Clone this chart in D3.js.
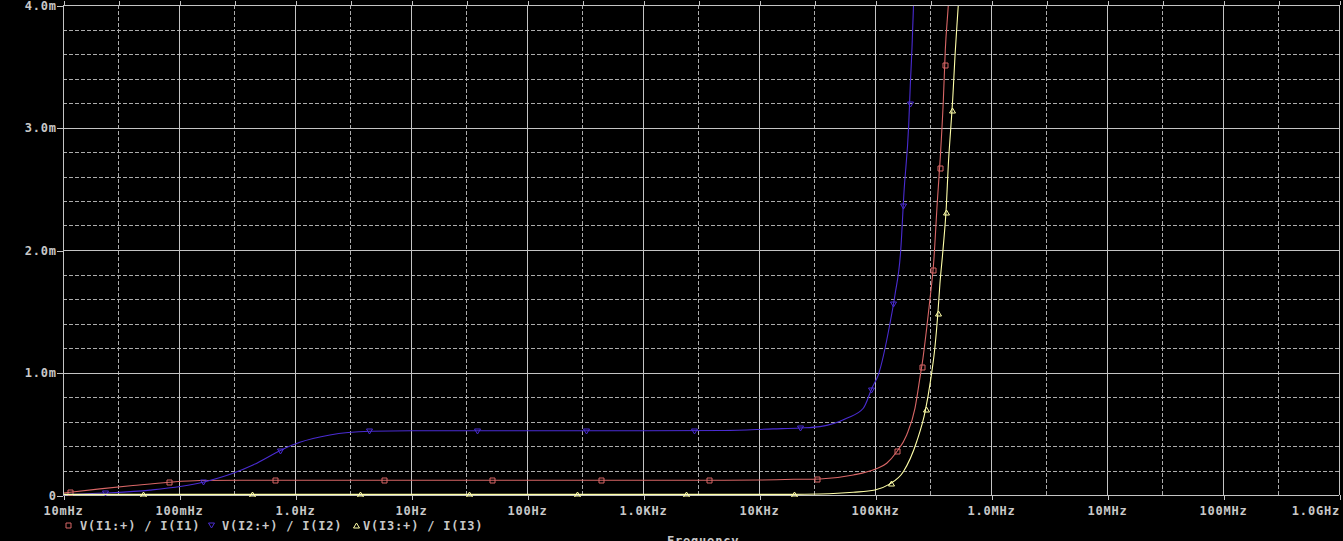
<!DOCTYPE html>
<html><head><meta charset="utf-8">
<script src="https://cdn.jsdelivr.net/npm/d3@7"></script>
<style>
html,body{margin:0;padding:0;background:#000;}
svg{display:block;background:#000;}
text{font-family:"DejaVu Sans Mono","Liberation Mono",monospace;font-weight:bold;}
</style></head><body>
<svg id="chart" width="1343" height="541"></svg>
<script>
// ---- data (values in milli-units, frequencies in Hz) ----
const xTickValues = [0.01, 0.1, 1, 10, 100, 1e3, 1e4, 1e5, 1e6, 1e7, 1e8, 1e9];
const xTickLabels = ["10mHz","100mHz","1.0Hz","10Hz","100Hz","1.0KHz","10KHz","100KHz","1.0MHz","10MHz","100MHz","1.0GHz"];
const xMinorValues = [0.03, 0.3, 3, 30, 300, 3e3, 3e4, 3e5, 3e6, 3e7, 3e8];
const yTickValues = [0, 1, 2, 3, 4];
const yTickLabels = ["0","1.0m","2.0m","3.0m","4.0m"];
const yMinorValues = [0.2,0.4,0.6,0.8,1.2,1.4,1.6,1.8,2.2,2.4,2.6,2.8,3.2,3.4,3.6,3.8];
const seriesNames = ["V(I1:+) / I(I1)", "V(I2:+) / I(I2)", "V(I3:+) / I(I3)"];
const xTitle = "Frequency";

const i1Freq = [0.01, 0.0115, 0.0208, 0.0401, 0.082, 0.152, 0.336, 1, 10, 100, 1000, 5000, 10000, 20000, 33570, 65000, 100000, 126200, 152800, 187500, 221300, 244300, 259400, 278000, 297900, 320600, 344300, 365600, 388200, 403600, 428500, 452000];
const i1Val  = [0.015, 0.022, 0.05, 0.077, 0.104, 0.118, 0.12, 0.12, 0.12, 0.12, 0.12, 0.12, 0.122, 0.128, 0.131, 0.163, 0.21, 0.259, 0.349, 0.49, 0.71, 0.96, 1.12, 1.35, 1.6, 1.9, 2.39, 2.76, 3.22, 3.63, 4.0, 4.4];

const i2Freq = [0.01, 0.023, 0.0562, 0.161, 0.292, 0.434, 0.773, 1.10, 2.0, 4.44, 10, 100, 1000, 5000, 13210, 22540, 33570, 57020, 79250, 94840, 106700, 134600, 148600, 166700, 177800, 195200, 201400, 208400, 214800, 222000];
const i2Val  = [0.003, 0.016, 0.04, 0.104, 0.177, 0.245, 0.37, 0.43, 0.49, 0.52, 0.525, 0.525, 0.525, 0.527, 0.54, 0.547, 0.558, 0.626, 0.708, 0.879, 0.98, 1.40, 1.633, 2.0, 2.471, 3.02, 3.34, 3.65, 4.0, 4.4];

const i3Freq = [0.01, 1, 100, 10000, 18500, 33570, 65000, 100000, 132100, 175400, 228600, 271600, 300600, 328900, 349100, 363100, 385500, 412100, 428500, 451900, 467700, 489800, 522400, 550000];
const i3Val  = [0.005, 0.005, 0.005, 0.005, 0.005, 0.008, 0.022, 0.041, 0.087, 0.19, 0.435, 0.688, 0.93, 1.21, 1.496, 1.728, 2.0, 2.359, 2.694, 3.02, 3.23, 3.592, 4.0, 4.35];

const seriesColors = ["#d86666", "#4a2cd2", "#ffffa8"];
const markerKinds = ["square", "down", "up"];

// ---- layout ----
const L = 63, R = 1339, T = 5, B = 495;
const svg = d3.select("#chart");
const x = d3.scaleLog().domain([0.01, 1e9]).range([L, R]);
const y = d3.scaleLinear().domain([0, 4]).range([B, T]);
const px = v => Math.round(v) + 0.5;

const solidCol = "#c4c4c4", dashCol = "#acacac", textCol = "#c8c8c8";

// grid
const grid = svg.append("g").attr("shape-rendering", "crispEdges");
grid.selectAll("line.vmin").data(xMinorValues).join("line")
  .attr("x1", d => px(x(d))).attr("x2", d => px(x(d))).attr("y1", T).attr("y2", B + 2)
  .attr("stroke", dashCol).attr("stroke-dasharray", "4,2");
grid.selectAll("line.hmin").data(yMinorValues).join("line")
  .attr("x1", L).attr("x2", R).attr("y1", d => px(y(d))).attr("y2", d => px(y(d)))
  .attr("stroke", dashCol).attr("stroke-dasharray", "4,2");
grid.selectAll("line.vmaj").data(xTickValues).join("line")
  .attr("x1", d => px(x(d))).attr("x2", d => px(x(d))).attr("y1", T).attr("y2", B)
  .attr("stroke", solidCol);
grid.selectAll("line.hmaj").data(yTickValues).join("line")
  .attr("x1", L).attr("x2", R).attr("y1", d => px(y(d))).attr("y2", d => px(y(d)))
  .attr("stroke", solidCol);

// top small ticks
const topAxis = svg.append("g").attr("transform", `translate(0,${T})`)
  .call(d3.axisTop(x).tickValues(xTickValues.concat(xMinorValues)).tickFormat("").tickSizeInner(4).tickSizeOuter(0));
topAxis.select(".domain").remove();
topAxis.selectAll("line").attr("stroke", solidCol).attr("shape-rendering", "crispEdges")
  .attr("transform", "translate(0.5,0)");

// bottom axis
const xAx = svg.append("g").attr("transform", `translate(0,${B})`)
  .call(d3.axisBottom(x).tickValues(xTickValues)
    .tickFormat(d => xTickLabels[xTickValues.indexOf(d)])
    .tickSizeInner(5).tickSizeOuter(0));
xAx.select(".domain").remove();
xAx.selectAll(".tick line").attr("stroke", solidCol).attr("shape-rendering", "crispEdges").attr("transform", "translate(0.5,0)");
xAx.selectAll(".tick text").attr("fill", textCol).attr("font-size", 12).attr("letter-spacing", "0.8px")
  .attr("y", 19.5).attr("dy", 0).attr("font-family", "DejaVu Sans Mono").attr("font-weight", "bold");
xAx.selectAll(".tick text").filter(d => d === 1e9).attr("text-anchor", "end").attr("x", 0.5);

// left axis
const yAx = svg.append("g").attr("transform", `translate(${L},0)`)
  .call(d3.axisLeft(y).tickValues(yTickValues)
    .tickFormat(d => yTickLabels[yTickValues.indexOf(d)])
    .tickSizeInner(6).tickPadding(1).tickSizeOuter(0));
yAx.select(".domain").remove();
yAx.selectAll(".tick line").attr("stroke", solidCol).attr("shape-rendering", "crispEdges").attr("transform", "translate(0,0.5)");
yAx.selectAll(".tick text").attr("fill", textCol).attr("font-size", 12).attr("letter-spacing", "0.8px")
  .attr("font-family", "DejaVu Sans Mono").attr("font-weight", "bold").attr("dy", "0.36em").attr("x", -6.2);

// clip
svg.append("clipPath").attr("id", "plotclip").append("rect")
  .attr("x", L).attr("y", T).attr("width", R - L).attr("height", B - T + 2);

const line = d3.line().x(d => x(d[0])).y(d => y(d[1])).curve(d3.curveMonotoneX);

const seriesData = [
  d3.zip(i1Freq, i1Val),
  d3.zip(i2Freq, i2Val),
  d3.zip(i3Freq, i3Val)
];

function markerPath(kind, cx, cy) {
  if (kind === "square") return `M${cx-2.5},${cy-2.5}h5v5h-5Z`;
  if (kind === "down") return `M${cx-3},${cy-2.5}L${cx+3},${cy-2.5}L${cx},${cy+2.5}Z`;
  return `M${cx-3},${cy+2.5}L${cx+3},${cy+2.5}L${cx},${cy-2.5}Z`;
}

const plot = svg.append("g").attr("clip-path", "url(#plotclip)");
const markerOffsets = [8, 44, 80];
const markerInterval = 108.5;

seriesData.forEach((data, si) => {
  const path = plot.append("path").datum(data)
    .attr("d", line).attr("fill", "none")
    .attr("stroke", seriesColors[si]).attr("stroke-width", 1.1);
  const node = path.node();
  const total = node.getTotalLength();
  let prev = node.getPointAtLength(0), acc = 0, next = markerOffsets[si];
  const pts = [];
  for (let s = 0.25; s <= total; s += 0.25) {
    const p = node.getPointAtLength(s);
    acc += Math.abs(p.x - prev.x) + Math.abs(p.y - prev.y);
    if (acc >= next) { pts.push({x: p.x, y: p.y}); next += markerInterval; }
    prev = p;
  }
  plot.selectAll(null).data(pts.filter(p => p.y >= T + 10)).join("path")
    .attr("d", p => markerPath(markerKinds[si], Math.round(p.x) + 0.5, Math.round(p.y) + 0.5))
    .attr("fill", "none").attr("stroke", seriesColors[si]).attr("stroke-width", 1);
});

// borders
const border = svg.append("g").attr("shape-rendering", "crispEdges").attr("stroke", solidCol);
border.append("line").attr("x1", L).attr("x2", R).attr("y1", px(T)).attr("y2", px(T));
border.append("line").attr("x1", px(L)).attr("x2", px(L)).attr("y1", T).attr("y2", B);
border.append("line").attr("x1", px(R)).attr("x2", px(R)).attr("y1", T).attr("y2", B);

// legend
const legendMarkerX = [68.5, 211.5, 356.5];
const legendTextX = [80, 222, 363];
const lg = svg.append("g");
seriesNames.forEach((name, i) => {
  lg.append("path").attr("d", markerPath(markerKinds[i], legendMarkerX[i], 525.5))
    .attr("fill", "none").attr("stroke", seriesColors[i]).attr("stroke-width", 1);
  lg.append("text").attr("x", legendTextX[i]).attr("y", 530).attr("fill", textCol)
    .attr("font-size", 12).attr("letter-spacing", "0.8px").text(name);
});

// x title (partly cut by the bottom edge, as in the reference)
svg.append("text").attr("x", 667).attr("y", 545).attr("fill", textCol)
  .attr("font-size", 12).attr("letter-spacing", "0.8px").text(xTitle);
</script>
</body></html>
